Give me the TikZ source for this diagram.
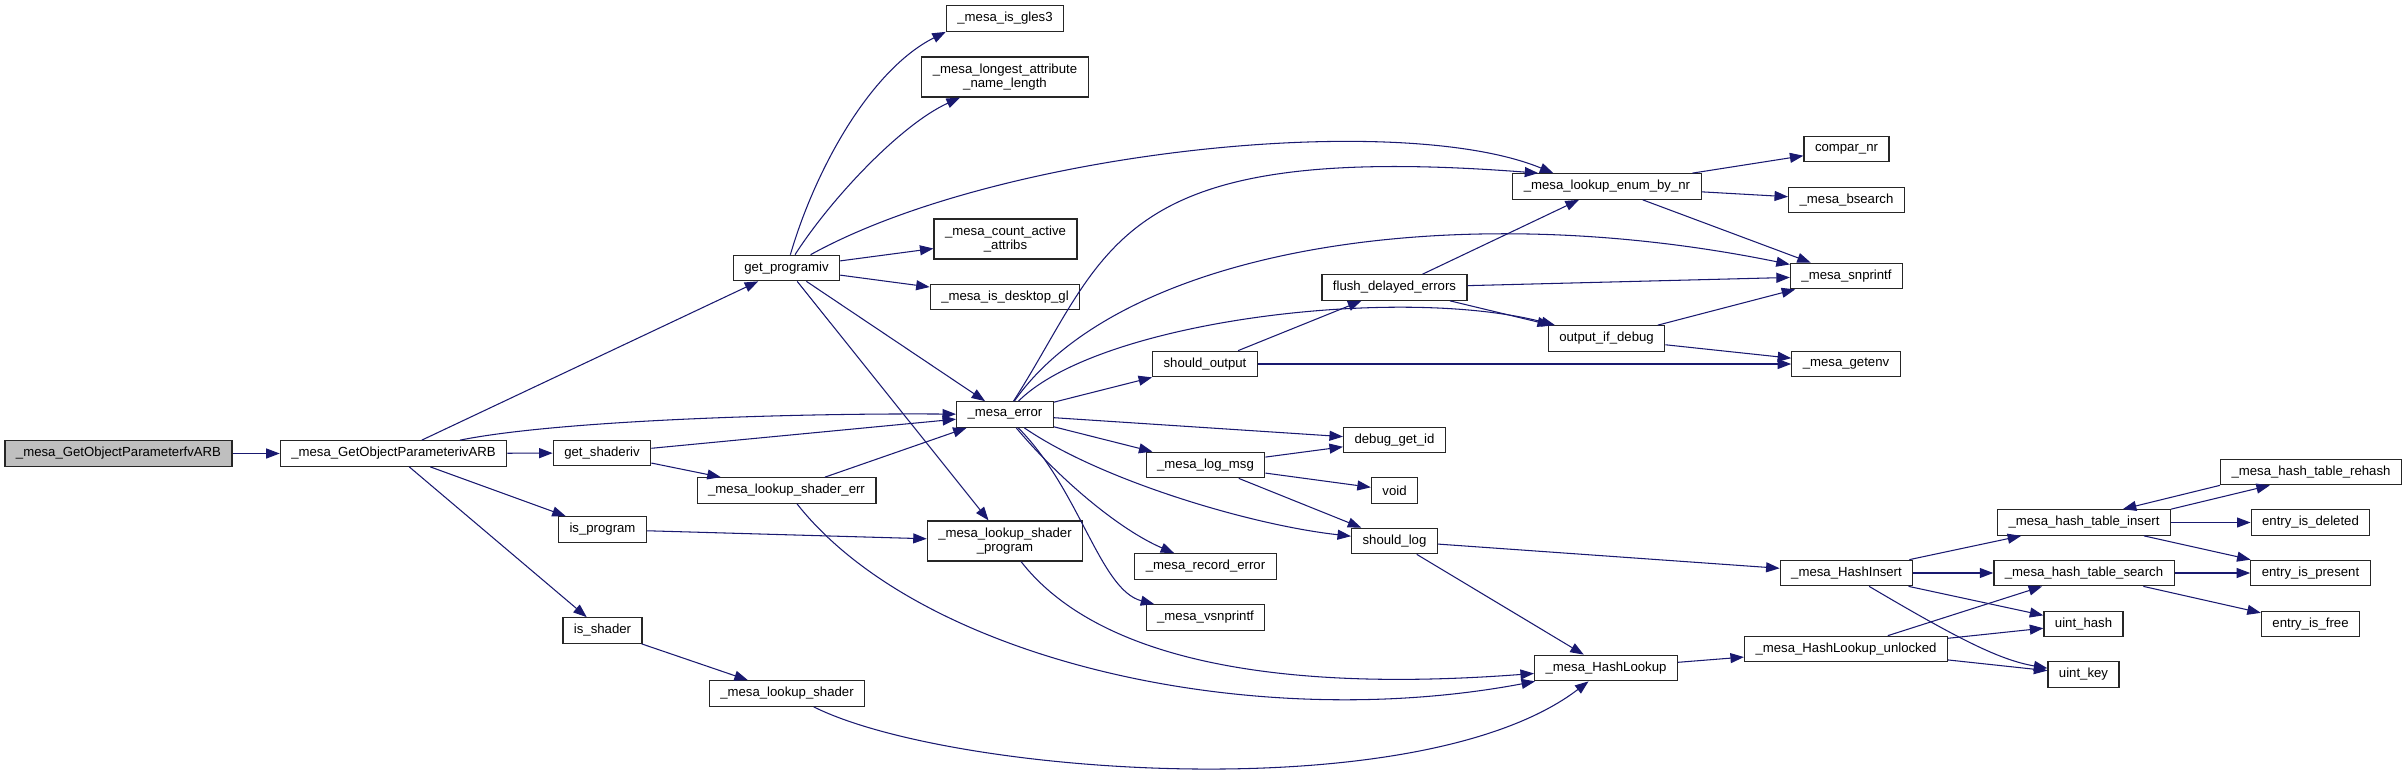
\documentclass[tikz,border=0pt]{standalone}
\usepackage{fontspec}
\setmainfont{Liberation Sans}
\usetikzlibrary{arrows.meta}
\definecolor{callblue}{HTML}{191970}
\definecolor{rootgray}{HTML}{BFBFBF}

\begin{document}
\begin{tikzpicture}[
    x=0.02cm,
    y=-0.02cm,
    >={Triangle[length=0.27cm,width=0.2cm]},
    fn/.style={draw=black!85, line width=0.7pt, fill=white, align=center, inner xsep=0.22cm, inner ysep=0pt, minimum height=0.51cm, font=\fontsize{7.5}{8.3}\selectfont},
    tall/.style={fn, minimum height=0.8cm},
    root/.style={fn, fill=rootgray},
    call/.style={->, color=callblue, line width=0.6pt}
]
\useasboundingbox (0,0) rectangle (2405,778);
\fill[white] (0,0) rectangle (2405,778);

\node[root] (fv) at (118.5,453.5) {\_mesa\_GetObjectParameterfvARB};
\node[fn] (iv) at (393.5,453.5) {\_mesa\_GetObjectParameterivARB};
\node[fn] (progiv) at (786.5,268) {get\_programiv};
\node[fn] (shaderiv) at (602,453) {get\_shaderiv};
\node[fn] (isprog) at (602.5,529.5) {is\_program};
\node[fn] (isshad) at (602.5,630.5) {is\_shader};
\node[fn] (gles3) at (1005,18.5) {\_mesa\_is\_gles3};
\node[tall] (longest) at (1005,77) {\_mesa\_longest\_attribute\\\_name\_length};
\node[tall] (cntact) at (1005.5,239) {\_mesa\_count\_active\\\_attribs};
\node[fn] (desk) at (1005,297) {\_mesa\_is\_desktop\_gl};
\node[fn] (err) at (1005,414.5) {\_mesa\_error};
\node[fn] (shaderr) at (786.5,490.5) {\_mesa\_lookup\_shader\_err};
\node[tall] (shprog) at (1005,541) {\_mesa\_lookup\_shader\\\_program};
\node[fn] (lkshad) at (787,693.5) {\_mesa\_lookup\_shader};
\node[fn] (enum) at (1607,186.5) {\_mesa\_lookup\_enum\_by\_nr};
\node[fn] (compar) at (1846.5,149) {compar\_nr};
\node[fn] (bsearch) at (1846.5,200) {\_mesa\_bsearch};
\node[fn] (snprintf) at (1846.5,276) {\_mesa\_snprintf};
\node[fn] (flush) at (1394.5,287.5) {flush\_delayed\_errors};
\node[fn] (outdbg) at (1606.5,338.5) {output\_if\_debug};
\node[fn] (getenv) at (1846,364) {\_mesa\_getenv};
\node[fn] (shout) at (1205,364) {should\_output};
\node[fn] (dbgid) at (1394.5,440) {debug\_get\_id};
\node[fn] (logmsg) at (1205.5,465) {\_mesa\_log\_msg};
\node[fn] (void) at (1394.5,490.5) {void};
\node[fn] (shlog) at (1394.5,541) {should\_log};
\node[fn] (recerr) at (1205.5,566.5) {\_mesa\_record\_error};
\node[fn] (vsn) at (1205.5,617.5) {\_mesa\_vsnprintf};
\node[fn] (hlook) at (1606,668) {\_mesa\_HashLookup};
\node[fn] (hins) at (1846.5,573) {\_mesa\_HashInsert};
\node[fn] (hlu) at (1846,649) {\_mesa\_HashLookup\_unlocked};
\node[fn] (tins) at (2084,522.5) {\_mesa\_hash\_table\_insert};
\node[fn] (treh) at (2311,472) {\_mesa\_hash\_table\_rehash};
\node[fn] (edel) at (2310.5,522.5) {entry\_is\_deleted};
\node[fn] (tsrch) at (2084,573) {\_mesa\_hash\_table\_search};
\node[fn] (epres) at (2310.5,573) {entry\_is\_present};
\node[fn] (uhash) at (2083.5,624) {uint\_hash};
\node[fn] (efree) at (2310.5,624) {entry\_is\_free};
\node[fn] (ukey) at (2083.5,674.5) {uint\_key};

\draw[call] (fv) -- (iv);
\draw[call] (iv) -- (progiv);
\draw[call] (iv) .. controls (560,420) and (800,413) .. (err);
\draw[call] (iv) -- (shaderiv);
\draw[call] (iv) -- (isprog);
\draw[call] (iv) -- (isshad);
\draw[call] (progiv) .. controls (815,170) and (870,70) .. (gles3.south west);
\draw[call] (progiv) .. controls (830,200) and (900,125) .. (longest);
\draw[call] (progiv) .. controls (1000,150) and (1400,110) .. (enum.166);
\draw[call] (progiv) -- (cntact);
\draw[call] (progiv) -- (desk);
\draw[call] (progiv) -- (err);
\draw[call] (progiv) -- (shprog);
\draw[call] (shaderiv) -- (err);
\draw[call] (shaderiv) -- (shaderr);
\draw[call] (shaderr) -- (err);
\draw[call] (shaderr) .. controls (920,660) and (1250,735) .. (hlook);
\draw[call] (isprog) -- (shprog);
\draw[call] (isshad) -- (lkshad);
\draw[call] (lkshad) .. controls (950,775) and (1420,810) .. (hlook);
\draw[call] (shprog) .. controls (1090,650) and (1250,695) .. (hlook);
\draw[call] (err) .. controls (1110,250) and (1110,140) .. (enum.169);
\draw[call] (err) .. controls (1120,250) and (1450,195) .. (snprintf);
\draw[call] (err) .. controls (1100,320) and (1400,285) .. (outdbg);
\draw[call] (err) -- (shout);
\draw[call] (err) -- (dbgid);
\draw[call] (err) -- (logmsg);
\draw[call] (err) .. controls (1100,480) and (1250,525) .. (shlog);
\draw[call] (err) .. controls (1060,480) and (1120,530) .. (recerr);
\draw[call] (err) .. controls (1080,490) and (1100,590) .. (vsn);
\draw[call] (shout) -- (flush);
\draw[call] (shout) -- (getenv);
\draw[call] (flush) -- (enum);
\draw[call] (flush) -- (snprintf);
\draw[call] (flush) -- (outdbg);
\draw[call] (outdbg) -- (snprintf);
\draw[call] (outdbg) -- (getenv);
\draw[call] (enum) -- (compar);
\draw[call] (enum) -- (bsearch);
\draw[call] (enum) -- (snprintf);
\draw[call] (logmsg) -- (dbgid);
\draw[call] (logmsg) -- (void);
\draw[call] (logmsg) -- (shlog);
\draw[call] (shlog) -- (hins);
\draw[call] (shlog) -- (hlook);
\draw[call] (hlook) -- (hlu);
\draw[call] (hins) -- (tins);
\draw[call] (hins) -- (tsrch);
\draw[call] (hins) -- (uhash);
\draw[call] (hins) .. controls (1960,640) and (2000,660) .. (ukey);
\draw[call] (hlu) -- (tsrch);
\draw[call] (hlu) -- (uhash);
\draw[call] (hlu) -- (ukey);
\draw[call] (tins.north east) -- (treh.198);
\draw[call] (treh.south west) -- (tins.19);
\draw[call] (tins) -- (edel);
\draw[call] (tins) -- (epres);
\draw[call] (tsrch) -- (epres);
\draw[call] (tsrch) -- (efree);
\end{tikzpicture}
\end{document}
